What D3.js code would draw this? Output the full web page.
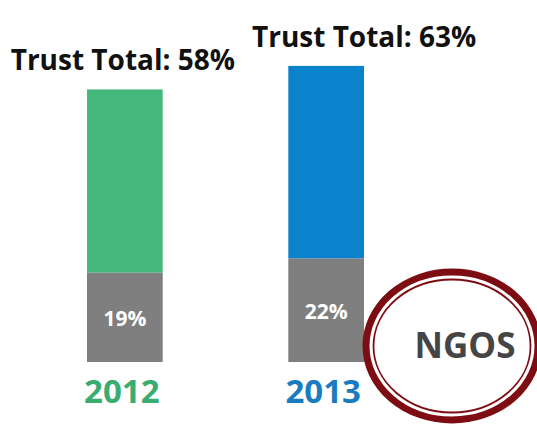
<!DOCTYPE html>
<html>
<head>
<meta charset="utf-8">
<script src="https://cdn.jsdelivr.net/npm/d3@7"></script>
<style>
  html, body { margin: 0; padding: 0; background: #fff; }
  svg { display: block; }
  text { font-family: "Open Sans", "Lato", sans-serif; }
</style>
</head>
<body>
<svg id="chart" width="537" height="426"></svg>
<script>
// Trust in NGOs, by survey year
const years = ["2012", "2013"];
const trustTotal = [58, 63];      // overall trust, %
const baseShare = [19, 22];       // grey base segment, %
const yearColors = ["#45b97c", "#0a82cc"];
const yearTextColors = ["#3aac70", "#1a7cc0"];
const baseColor = "#7f7f7f";
const badgeLabel = "NGOS";

const svg = d3.select("#chart");

const x = d3.scaleBand()
  .domain(years)
  .range([87, 364])
  .paddingInner(0.624)
  .paddingOuter(0);

const y = d3.scaleLinear()
  .domain([0, 70])
  .range([362, 362 - 70 * 4.7]);

const rows = years.map((yr, i) => ({
  year: yr, total: trustTotal[i], base: baseShare[i],
  color: yearColors[i], textColor: yearTextColors[i], i
}));

// coloured upper part (base -> total)
svg.selectAll("rect.top").data(rows).join("rect")
  .attr("class", "top")
  .attr("x", d => x(d.year))
  .attr("width", x.bandwidth())
  .attr("y", d => y(d.total))
  .attr("height", d => y(d.base) - y(d.total))
  .attr("fill", d => d.color);

// grey base part (0 -> base)
svg.selectAll("rect.base").data(rows).join("rect")
  .attr("class", "base")
  .attr("x", d => x(d.year))
  .attr("width", x.bandwidth())
  .attr("y", d => y(d.base))
  .attr("height", d => y(0) - y(d.base))
  .attr("fill", baseColor);

// base percentage inside grey part
svg.selectAll("text.base").data(rows).join("text")
  .attr("class", "base")
  .attr("x", d => x(d.year) + x.bandwidth() / 2)
  .attr("y", d => (y(d.base) + y(0)) / 2 + 9)
  .attr("text-anchor", "middle")
  .attr("font-size", 21)
  .attr("font-weight", 700)
  .attr("fill", "#ffffff")
  .text(d => d.base + "%");

// "Trust Total" headline above each bar
const labelShift = [-2, 38];
svg.selectAll("text.total").data(rows).join("text")
  .attr("class", "total")
  .attr("x", d => x(d.year) + x.bandwidth() / 2 + labelShift[d.i])
  .attr("y", d => y(d.total) - 19)
  .attr("text-anchor", "middle")
  .attr("font-size", 28)
  .attr("font-weight", 700)
  .attr("fill", "#111")
  .text(d => "Trust Total: " + d.total + "%");

// year labels under the bars
svg.selectAll("text.year").data(rows).join("text")
  .attr("class", "year")
  .attr("x", d => x(d.year) + x.bandwidth() / 2 - 3)
  .attr("y", 403)
  .attr("text-anchor", "middle")
  .attr("font-size", 33)
  .attr("font-weight", 700)
  .attr("fill", d => d.textColor)
  .text(d => d.year);

// circled sector badge
const badge = svg.append("g").attr("transform", "translate(452,346)");
badge.append("ellipse")
  .attr("rx", 86).attr("ry", 74)
  .attr("fill", "#fff")
  .attr("stroke", "#7d0d12").attr("stroke-width", 7);
badge.append("ellipse")
  .attr("rx", 78.5).attr("ry", 66.5)
  .attr("fill", "none")
  .attr("stroke", "#7d0d12").attr("stroke-width", 1.8);
badge.append("text")
  .attr("x", 13).attr("y", 12)
  .attr("text-anchor", "middle")
  .attr("font-size", 35)
  .attr("font-weight", 700)
  .attr("fill", "#454545")
  .text(badgeLabel);
</script>
</body>
</html>
